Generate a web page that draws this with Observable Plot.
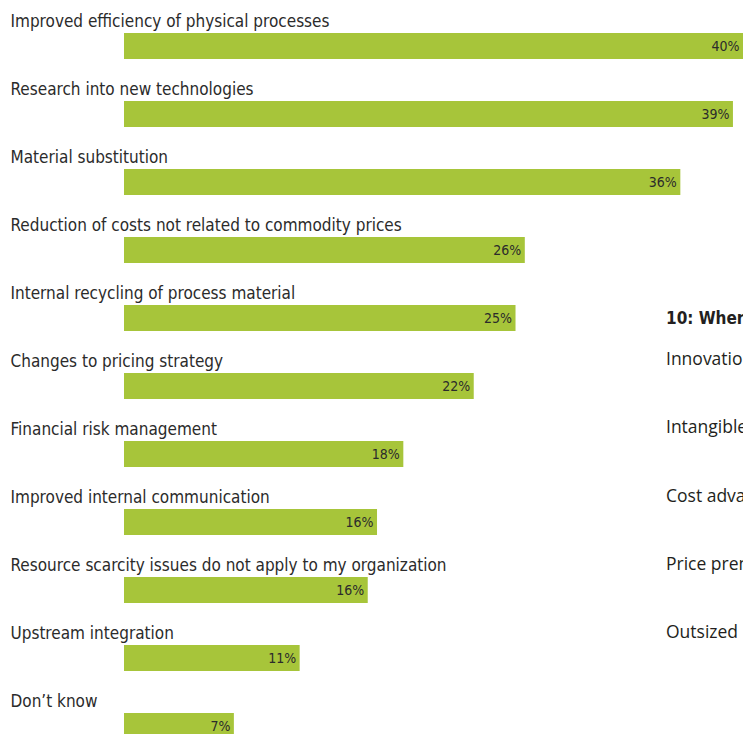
<!DOCTYPE html>
<html>
<head>
<meta charset="utf-8">
<script src="https://cdn.jsdelivr.net/npm/d3@7"></script>
<script src="https://cdn.jsdelivr.net/npm/@observablehq/plot@0.6"></script>
<style>
  html, body { margin: 0; padding: 0; background: #fff; overflow: hidden; width: 743px; height: 734px; }
  #wrap { position: relative; width: 743px; height: 734px; overflow: hidden; }
  #side { position: absolute; left: 666px; top: 0; width: 77px; height: 734px; overflow: hidden; font-family: "Open Sans", "Lato", sans-serif; color: #231f20; white-space: nowrap; }
  #side .h { position: absolute; top: 308px; line-height: 20px; font-weight: bold; font-size: 17px; font-family: "Liberation Sans Narrow", "DejaVu Sans Condensed", "Roboto", sans-serif; font-stretch: condensed; }
  #side .i { position: absolute; font-size: 17.5px; line-height: 20px; }
</style>
</head>
<body>
<div id="wrap"><div id="chart"></div><div id="side"></div></div>
<script>
const categories = [
  "Improved efficiency of physical processes",
  "Research into new technologies",
  "Material substitution",
  "Reduction of costs not related to commodity prices",
  "Internal recycling of process material",
  "Changes to pricing strategy",
  "Financial risk management",
  "Improved internal communication",
  "Resource scarcity issues do not apply to my organization",
  "Upstream integration",
  "Don\u2019t know"
];
const values = [40, 39.35, 35.95, 25.9, 25.3, 22.6, 18.05, 16.35, 15.75, 11.35, 7.1];
const valueLabels = ["40%", "39%", "36%", "26%", "25%", "22%", "18%", "16%", "16%", "11%", "7%"];

const sideTitle = "10: Where do you see the greatest opportunity?";
const sideItems = ["Innovation", "Intangible assets", "Cost advantage", "Price premium", "Outsized returns"];

const data = categories.map((c, i) => ({category: c, value: values[i], label: valueLabels[i]}));

const rowStep = 68;
const condensed = "'Liberation Sans Narrow', 'DejaVu Sans Condensed', 'Roboto Condensed', sans-serif";

const chart = Plot.plot({
  width: 743,
  height: rowStep * categories.length,
  marginLeft: 124,
  marginRight: 0,
  marginTop: 0,
  marginBottom: 0,
  style: {fontFamily: condensed, background: "#fff", overflow: "hidden"},
  x: {domain: [0, 40], axis: null},
  y: {domain: categories, axis: null, padding: 0},
  marks: [
    Plot.barX(data, {x: "value", y: "category", fill: "#a7c53a", insetTop: 33, insetBottom: 9}),
    Plot.text(data, {
      y: "category", text: "category", frameAnchor: "left", dx: -114, dy: -13,
      textAnchor: "start", fontSize: 17, fill: "#2b2b2b", fontStretch: "condensed"
    }),
    Plot.text(data, {
      x: "value", y: "category", text: "label", dx: -4, dy: 12,
      textAnchor: "end", fontSize: 14, fill: "#2b2b2b", fontStretch: "condensed"
    })
  ]
});
document.getElementById("chart").appendChild(chart);

const side = document.getElementById("side");
const h = document.createElement("div");
h.className = "h"; h.textContent = sideTitle; side.appendChild(h);
sideItems.forEach((t, i) => {
  const d = document.createElement("div");
  d.className = "i"; d.textContent = t;
  d.style.top = (348 + i * 68.3) + "px";
  side.appendChild(d);
});
</script>
</body>
</html>
